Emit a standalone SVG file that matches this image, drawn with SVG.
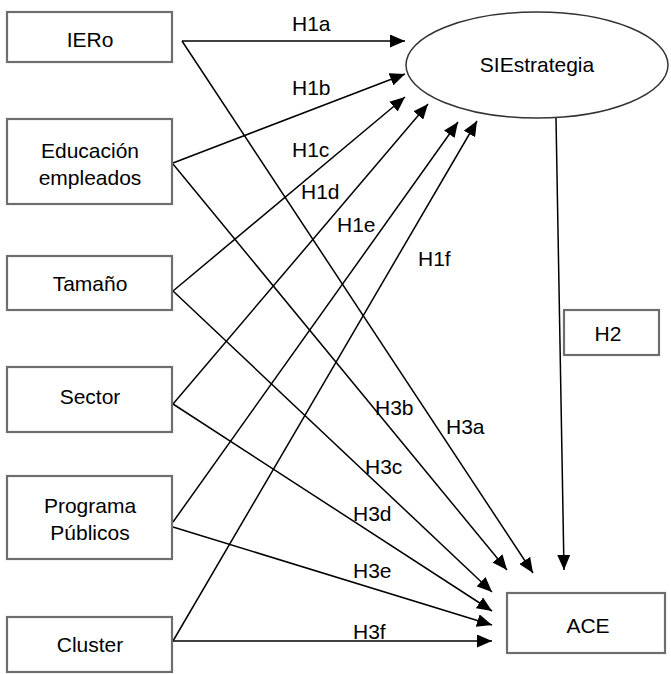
<svg xmlns="http://www.w3.org/2000/svg" width="671" height="674" viewBox="0 0 671 674">
<defs>
<marker id="ah" markerUnits="userSpaceOnUse" markerWidth="15" markerHeight="13" refX="15" refY="6.5" orient="auto">
<path d="M0,0 L15,6.5 L0,13 z" fill="#000"/>
</marker>
</defs>
<style>
.box{fill:#fff;stroke:#6e6e6e;stroke-width:2.2}
.t{font-family:"Liberation Sans",Arial,sans-serif;font-size:21px;fill:#000;text-anchor:middle}
.l{font-family:"Liberation Sans",Arial,sans-serif;font-size:21px;fill:#000}
.c{stroke:#000;stroke-width:1.5;fill:none;marker-end:url(#ah)}
</style>
<rect width="671" height="674" fill="#fff"/>
<g id="connectors">
<line class="c" x1="182" y1="41" x2="405" y2="41"/>
<line class="c" x1="173" y1="163" x2="405" y2="74"/>
<line class="c" x1="173" y1="291" x2="405" y2="97"/>
<line class="c" x1="173" y1="404" x2="428" y2="104"/>
<line class="c" x1="173" y1="522" x2="458" y2="122"/>
<line class="c" x1="173" y1="641" x2="477" y2="121"/>
<line class="c" x1="182" y1="41" x2="533" y2="573"/>
<line class="c" x1="173" y1="164" x2="507" y2="570"/>
<line class="c" x1="173" y1="291" x2="492" y2="592"/>
<line class="c" x1="173" y1="404" x2="492" y2="611"/>
<line class="c" x1="173" y1="527" x2="492" y2="625"/>
<line class="c" x1="173" y1="641" x2="492" y2="641"/>
<line class="c" x1="556" y1="118" x2="564" y2="570"/>
</g>
<g id="labels">
<text class="l" x="292" y="31">H1a</text>
<text class="l" x="292" y="95">H1b</text>
<text class="l" x="292" y="157">H1c</text>
<text class="l" x="301" y="199">H1d</text>
<text class="l" x="337" y="232">H1e</text>
<text class="l" x="418" y="266">H1f</text>
<text class="l" x="375" y="415">H3b</text>
<text class="l" x="446" y="434">H3a</text>
<text class="l" x="365" y="474">H3c</text>
<text class="l" x="353" y="521">H3d</text>
<text class="l" x="353" y="578">H3e</text>
<text class="l" x="353" y="639">H3f</text>
</g>
<g id="IERo"><rect class="box" x="7" y="12" width="165" height="50"/><text class="t" x="90" y="47">IERo</text></g>
<g id="Educacion"><rect class="box" x="7" y="119" width="165" height="85"/><text class="t" x="90" y="158">Educación</text><text class="t" x="90" y="185">empleados</text></g>
<g id="Tamano"><rect class="box" x="7" y="256" width="165" height="54"/><text class="t" x="90" y="291">Tamaño</text></g>
<g id="Sector"><rect class="box" x="7" y="367" width="165" height="65"/><text class="t" x="90" y="404">Sector</text></g>
<g id="Programa"><rect class="box" x="7" y="476" width="165" height="83"/><text class="t" x="90" y="513">Programa</text><text class="t" x="90" y="540">Públicos</text></g>
<g id="Cluster"><rect class="box" x="7" y="617" width="165" height="55"/><text class="t" x="90" y="652">Cluster</text></g>
<g id="SIEstrategia"><ellipse cx="537" cy="65" rx="131" ry="53" fill="#fff" stroke="#333" stroke-width="1.5"/><text class="t" x="537" y="72">SIEstrategia</text></g>
<g id="H2"><rect class="box" x="564" y="310" width="95" height="45"/><text class="t" x="608" y="341">H2</text></g>
<g id="ACE"><rect class="box" x="507" y="593" width="158" height="60"/><text class="t" x="588" y="633">ACE</text></g>
</svg>
